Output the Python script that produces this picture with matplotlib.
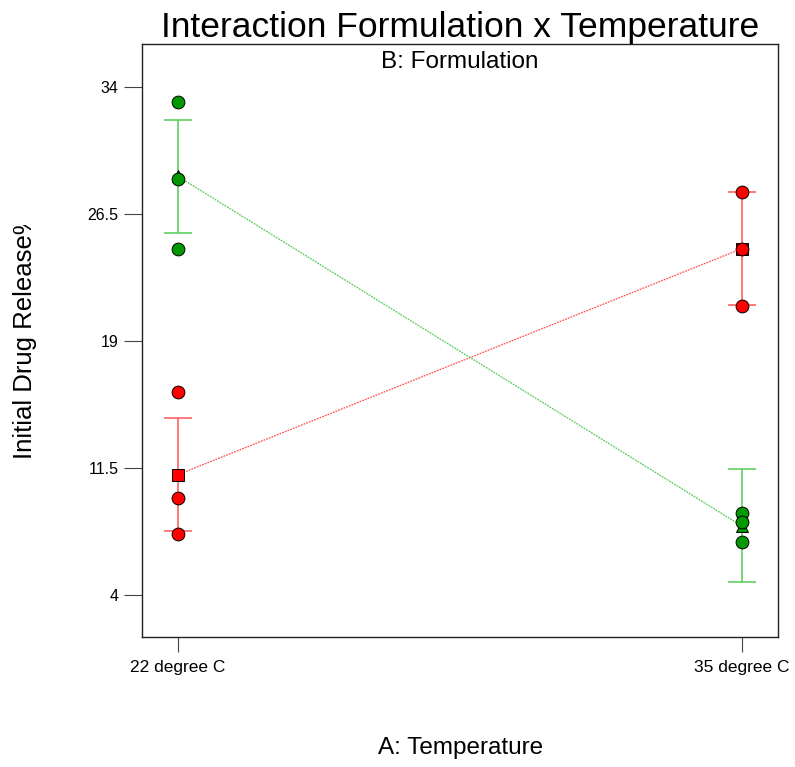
import matplotlib
matplotlib.use("Agg")
import matplotlib.pyplot as plt
from matplotlib.transforms import Bbox
import numpy as np

plt.rcParams['font.family'] = ['Liberation Sans', 'DejaVu Sans']

# Factor A levels (x axis)
temperatures = ["22 degree C", "35 degree C"]

# Observed initial drug release for each formulation at each temperature
red_points = [[15.98, 9.72, 7.58], [27.80, 24.43, 21.06]]
green_points = [[33.11, 28.55, 24.43], [8.80, 8.31, 7.09]]

# LSD half-width of the error bars
lsd_half = 3.34

y_ticks = [4, 11.5, 19, 26.5, 34]
y_tick_labels = ["4", "11.5", "19", "26.5", "34"]

red_fill, red_line = "#ff0000", "#ff5555"
green_fill, green_line = "#009900", "#55cc55"

fig = plt.figure(figsize=(7.95, 7.67), dpi=100)
ax = fig.add_axes([142 / 795, 1 - 636.7 / 767, (777.7 - 142) / 795, (636.7 - 44) / 767])

x = np.arange(len(temperatures))
red_means = [np.mean(p) for p in red_points]
green_means = [np.mean(p) for p in green_points]

for means, pts, fill, line, mk in [
    (red_means, red_points, red_fill, red_line, "s"),
    (green_means, green_points, green_fill, green_line, "^"),
]:
    # dotted line joining the predicted means
    ax.plot(x, means, linestyle=(0, (1.5, 0.8)), color=line, lw=0.9, zorder=2)
    # LSD bars
    ax.errorbar(x, means, yerr=lsd_half, fmt="none", ecolor=line, elinewidth=1.1,
                capsize=9.8, capthick=1.1, zorder=2)
    # mean symbols
    ax.plot(x, means, linestyle="none", marker=mk, ms=9, mfc=fill, mec="black",
            mew=0.7, zorder=3)
    # design points
    for xi, vals in zip(x, pts):
        ax.plot([xi] * len(vals), vals, linestyle="none", marker="o", ms=9.2,
                mfc=fill, mec="black", mew=0.7, zorder=4)

ax.set_xlim(-0.064, 1.064)
ax.set_ylim(1.52, 36.52)
ax.set_xticks(x)
ax.set_xticklabels(temperatures)
ax.set_yticks(y_ticks)
ax.set_yticklabels(y_tick_labels)
ax.tick_params(axis="y", direction="out", length=13, width=0.8, color="#444444",
               labelsize=11.5, pad=4)
ax.tick_params(axis="x", direction="out", length=11, width=0.8, color="#444444",
               labelsize=12.5, pad=6)
for s in ax.spines.values():
    s.set_linewidth(1.0)
    s.set_color("#222222")

fig.text(460 / 795, 1 - 37 / 767, "Interaction Formulation x Temperature",
         ha="center", va="baseline", fontsize=25.5)
ax.text(0.5, 0.988, "B: Formulation", transform=ax.transAxes, ha="center",
        va="top", fontsize=17.5)
fig.text(461 / 795, 1 - 748 / 767, "A: Temperature", ha="center", va="center",
         fontsize=17.5)

ylab = fig.text(25 / 795, 1 - 459 / 767, "Initial Drug Release%", rotation=90,
                ha="center", va="bottom", fontsize=18.5)
ylab.set_clip_box(Bbox.from_extents(0, 0, 795, 767 - 225))
ylab.set_clip_on(True)

fig.savefig("out.png", dpi=100)
